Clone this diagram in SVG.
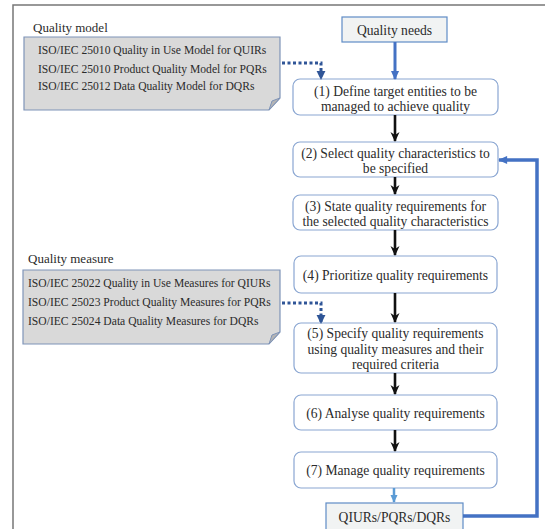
<svg xmlns="http://www.w3.org/2000/svg" width="545" height="529" viewBox="0 0 545 529">
<style>
text{font-family:"Liberation Serif","Times New Roman",serif;fill:#2b2b2b;}
.lbl{font-size:13px;}
.ref{font-size:11.6px;}
.step{font-size:13.6px;text-anchor:middle;}
.box{fill:#fff;stroke:#8aa6d2;stroke-width:1.2;}
.io{fill:#f1f3f3;stroke:#5f8cc6;stroke-width:1.2;}
.note{fill:#d9d9d9;stroke:#7f94b8;stroke-width:1.2;}
.fold{fill:#b4b4b4;stroke:#7f94b8;stroke-width:1;}
.blk{stroke:#111;stroke-width:2.6;fill:none;}
.dot{stroke:#2f5597;stroke-width:3;stroke-dasharray:3 2.5;fill:none;}
</style>
<defs>
<marker id="ab" viewBox="0 0 10 10" refX="9" refY="5" markerWidth="10" markerHeight="10" markerUnits="userSpaceOnUse" orient="auto">
<path d="M0,0.5 L10,5 L0,9.5 L3,5 Z" fill="#111"/>
</marker>
<marker id="abl" viewBox="0 0 10 10" refX="9" refY="5" markerWidth="10" markerHeight="9" markerUnits="userSpaceOnUse" orient="auto">
<path d="M0,0.5 L10,5 L0,9.5 Z" fill="#4472c4"/>
</marker>
<marker id="alb" viewBox="0 0 10 10" refX="9" refY="5" markerWidth="8" markerHeight="8" markerUnits="userSpaceOnUse" orient="auto">
<path d="M0,0.5 L10,5 L0,9.5 Z" fill="#5b9bd5"/>
</marker>
<marker id="adb" viewBox="0 0 10 10" refX="9" refY="5" markerWidth="9" markerHeight="11" markerUnits="userSpaceOnUse" orient="auto">
<path d="M0,0 L10,5 L0,10 Z" fill="#2f5597"/>
</marker>
</defs>

<path d="M13,529 V5 H545" fill="none" stroke="#777" stroke-width="1.5"/>

<g id="quality-model">
<text class="lbl" x="33" y="32">Quality model</text>
<path class="note" d="M24,37 H280 V98 L269,110 H24 Z"/>
<path class="fold" d="M269,110 L272,101 L280,98 Z"/>
<text class="ref" x="38" y="54">ISO/IEC 25010 Quality in Use Model for QUIRs</text>
<text class="ref" x="38" y="72.5">ISO/IEC 25010 Product Quality Model for PQRs</text>
<text class="ref" x="38" y="90">ISO/IEC 25012 Data Quality Model for DQRs</text>
</g>

<g id="quality-measure">
<text class="lbl" x="28" y="263">Quality measure</text>
<path class="note" d="M23,270 H280 V332 L269,344 H23 Z"/>
<path class="fold" d="M269,344 L272,335 L280,332 Z"/>
<text class="ref" x="28" y="287">ISO/IEC 25022 Quality in Use Measures for QIURs</text>
<text class="ref" x="28" y="306">ISO/IEC 25023 Product Quality Measures for PQRs</text>
<text class="ref" x="28" y="325">ISO/IEC 25024 Data Quality Measures for DQRs</text>
</g>

<g id="quality-needs">
<rect class="io" x="342" y="17" width="105" height="25"/>
<text class="step" x="394.5" y="34.5">Quality needs</text>
</g>

<g id="step1">
<rect class="box" x="293" y="79" width="205" height="36" rx="7"/>
<text class="step" x="395.5" y="95.5">(1) Define target entities to be</text>
<text class="step" x="395.5" y="110.5">managed to achieve quality</text>
</g>
<g id="step2">
<rect class="box" x="293" y="142" width="205" height="35" rx="7"/>
<text class="step" x="395.5" y="157.5">(2) Select quality characteristics to</text>
<text class="step" x="395.5" y="172.5">be specified</text>
</g>
<g id="step3">
<rect class="box" x="293" y="195" width="205" height="35" rx="7"/>
<text class="step" x="395.5" y="210.5">(3) State quality requirements for</text>
<text class="step" x="395.5" y="225.5">the selected quality characteristics</text>
</g>
<g id="step4">
<rect class="box" x="294" y="256" width="203" height="37" rx="7"/>
<text class="step" x="395.5" y="279.5">(4) Prioritize quality requirements</text>
</g>
<g id="step5">
<rect class="box" x="294" y="323" width="203" height="50" rx="7"/>
<text class="step" x="395.5" y="338">(5) Specify quality requirements</text>
<text class="step" x="395.5" y="353.5">using quality measures and their</text>
<text class="step" x="395.5" y="369">required criteria</text>
</g>
<g id="step6">
<rect class="box" x="294" y="395" width="203" height="35" rx="7"/>
<text class="step" x="395.5" y="417.5">(6) Analyse quality requirements</text>
</g>
<g id="step7">
<rect class="box" x="294" y="452" width="203" height="36" rx="7"/>
<text class="step" x="395.5" y="474.5">(7) Manage quality requirements</text>
</g>
<g id="output">
<rect class="io" x="326" y="503" width="137" height="34"/>
<text class="step" x="394.5" y="521.5">QIURs/PQRs/DQRs</text>
</g>

<g id="connectors">
<path d="M395,42 V79" stroke="#4472c4" stroke-width="3" fill="none" marker-end="url(#abl)"/>
<path class="blk" d="M395,115 V141" marker-end="url(#ab)"/>
<path class="blk" d="M395,177 V194" marker-end="url(#ab)"/>
<path class="blk" d="M395,230 V255" marker-end="url(#ab)"/>
<path class="blk" d="M395,293 V322" marker-end="url(#ab)"/>
<path class="blk" d="M395,373 V394" marker-end="url(#ab)"/>
<path class="blk" d="M395,430 V451" marker-end="url(#ab)"/>
<path d="M394,488 V502" stroke="#5b9bd5" stroke-width="2.5" fill="none" marker-end="url(#alb)"/>
<path class="dot" d="M282,63 H321 V79" marker-end="url(#adb)"/>
<path class="dot" d="M282,303 H321 V323" marker-end="url(#adb)"/>
<path d="M463,516 H537 V160 H499" stroke="#4472c4" stroke-width="3.5" fill="none" marker-end="url(#abl)"/>
</g>
</svg>
